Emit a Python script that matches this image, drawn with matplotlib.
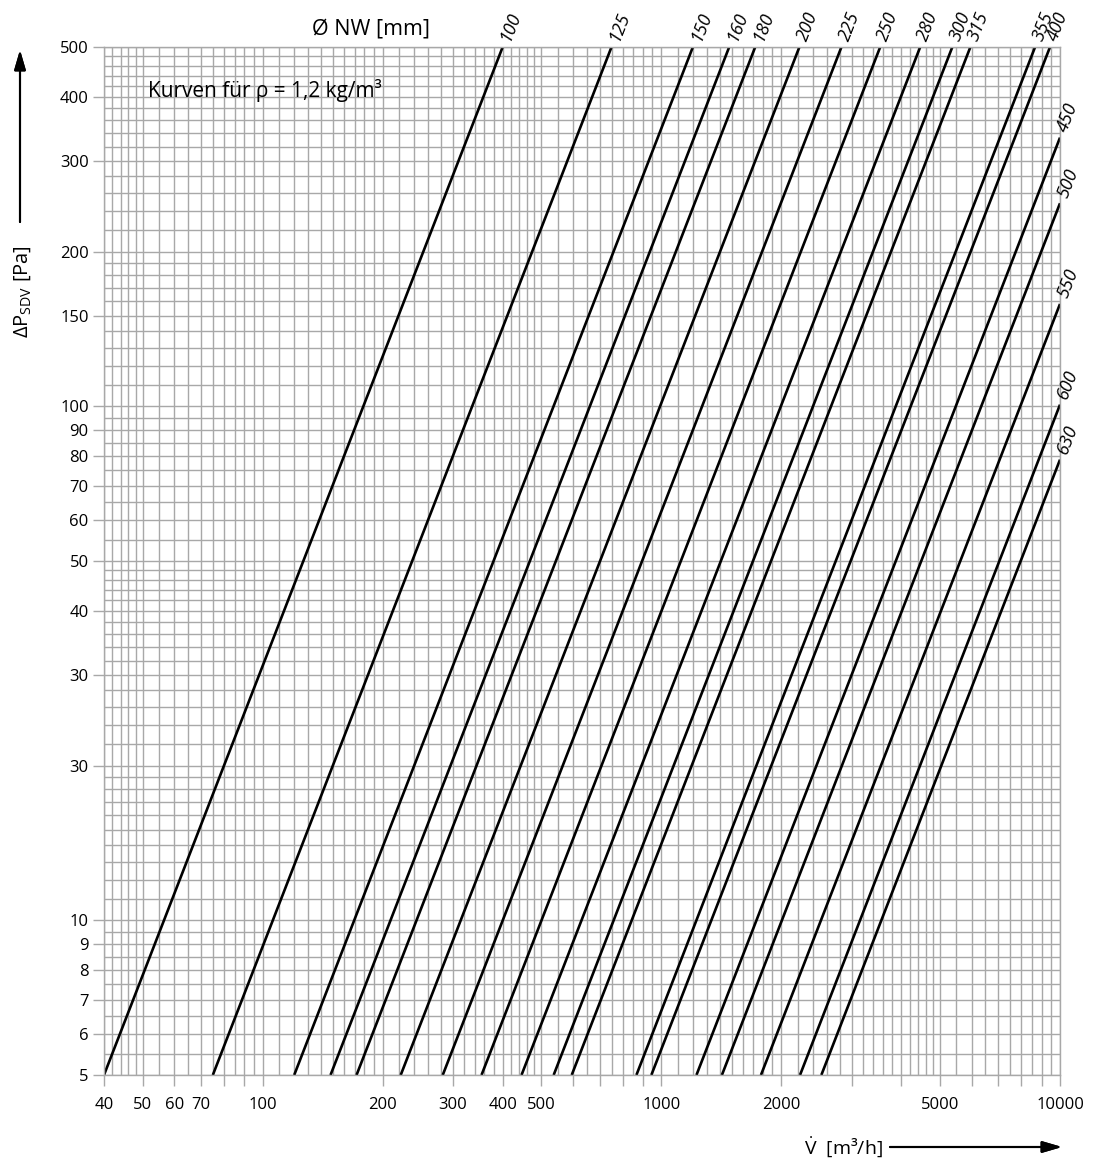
import numpy as np
import matplotlib.pyplot as plt
from matplotlib.ticker import FixedLocator, FixedFormatter, NullFormatter

plt.rcParams['font.family'] = ['Open Sans', 'DejaVu Sans']
plt.rcParams['mathtext.fontset'] = 'custom'
plt.rcParams['mathtext.rm'] = 'Open Sans'

# nominal diameter [mm] and volume flow [m3/h] at 5 Pa for each curve
diameters = [100, 125, 150, 160, 180, 200, 225, 250, 280, 300, 315, 355, 400,
             450, 500, 550, 600, 630]
flow_at_5pa = [40, 75, 120, 148, 172, 222, 283, 354, 446, 537, 596, 866, 944,
               1225, 1419, 1778, 2228, 2520]

# axis ticks
x_tick_values = [40, 50, 60, 70, 80, 90,
                 100, 200, 300, 400, 500, 600, 700, 800, 900,
                 1000, 2000, 3000, 4000, 5000, 6000, 7000, 8000, 9000, 10000]
x_labelled = [40, 50, 60, 70, 100, 200, 300, 400, 500, 1000, 2000, 5000, 10000]
y_tick_values = [5, 6, 7, 8, 9, 10, 20, 30, 40, 50, 60, 70, 80, 90, 100, 150,
                 200, 300, 400, 500]
y_tick_labels = ['5', '6', '7', '8', '9', '10', '30', '30', '40', '50', '60',
                 '70', '80', '90', '100', '150', '200', '300', '400', '500']

grid_col = '#a8a8a8'

fig = plt.figure(figsize=(10.95, 11.65), dpi=100)
ax = fig.add_axes([104 / 1095, 1 - 1075 / 1165, 956 / 1095, 1028 / 1165])
ax.set_xscale('log')
ax.set_yscale('log')
ax.set_xlim(40, 10000)
ax.set_ylim(5, 500)

# paper-like log grid: step 0.1 from 1-2, 0.2 from 2-5, 0.5 from 5-10 per decade
mant = np.concatenate([np.arange(1, 2, 0.1), np.arange(2, 5, 0.2), np.arange(5, 10, 0.5)])
gx = np.concatenate([mant * 10 ** k for k in range(1, 5)])
gx = gx[(gx >= 40) & (gx <= 10000)]
gy = np.concatenate([mant * 10 ** k for k in range(0, 3)])
gy = gy[(gy >= 5) & (gy <= 500)]
ax.xaxis.set_minor_locator(FixedLocator(gx))
ax.yaxis.set_minor_locator(FixedLocator(gy))
ax.xaxis.set_minor_formatter(NullFormatter())
ax.yaxis.set_minor_formatter(NullFormatter())
ax.grid(which='both', color=grid_col, linewidth=1.0)
ax.set_axisbelow(True)

ax.xaxis.set_major_locator(FixedLocator(x_tick_values))
ax.xaxis.set_major_formatter(FixedFormatter(
    [str(v) if v in x_labelled else '' for v in x_tick_values]))
ax.yaxis.set_major_locator(FixedLocator(y_tick_values))
ax.yaxis.set_major_formatter(FixedFormatter(y_tick_labels))
ax.tick_params(which='major', length=8, width=1.0, color=grid_col, labelsize=12)
ax.tick_params(axis='x', which='major', pad=8)
ax.tick_params(axis='y', which='major', pad=3)
ax.tick_params(which='minor', length=0)
for s in ax.spines.values():
    s.set_color(grid_col)
    s.set_linewidth(1.0)

# curves: dp ~ V^2, from 5 Pa up to the top or right edge
for d, v0 in zip(diameters, flow_at_5pa):
    v_end = min(v0 * 10, 10000)
    v = np.array([v0, v_end])
    dp = 5 * (v / v0) ** 2
    ax.plot(v, dp, color='black', linewidth=1.9, solid_capstyle='butt')
    p0 = ax.transData.transform((v[0], dp[0]))
    p1 = ax.transData.transform((v[1], dp[1]))
    ang = np.degrees(np.arctan2(p1[1] - p0[1], p1[0] - p0[0]))
    off = 5
    ax.annotate(str(d), xy=(v[1], dp[1]),
                xytext=(off * np.cos(np.radians(ang)), off * np.sin(np.radians(ang))),
                textcoords='offset points', rotation=ang, rotation_mode='anchor',
                ha='left', va='center', fontsize=13, style='italic',
                annotation_clip=False)

ax.text(0.046, 0.958, 'Kurven für ρ = 1,2 kg/m³', transform=ax.transAxes,
        fontsize=15, ha='left', va='center')
fig.text(371 / 1095, 1 - 29 / 1165, 'Ø NW [mm]', fontsize=15.5, ha='center', va='center')

fig.text(23 / 1095, 1 - 292 / 1165, r'ΔP$_{\mathrm{SDV}}$ [Pa]', fontsize=14.5,
         rotation=90, ha='center', va='center')
fig.text(843 / 1095, 1 - 1147 / 1165, r'$\dot{\mathrm{V}}$  [m³/h]', fontsize=14,
         ha='center', va='center')

arrow = dict(arrowstyle='-|>,head_length=1.2,head_width=0.35', color='black',
             lw=1.5, mutation_scale=10, shrinkA=0, shrinkB=0)
fig.add_artist(plt.annotate('', xy=(20 / 1095, 1 - 50 / 1165), xycoords='figure fraction',
                            xytext=(20 / 1095, 1 - 222 / 1165), textcoords='figure fraction',
                            arrowprops=arrow))
fig.add_artist(plt.annotate('', xy=(1062 / 1095, 1 - 1147 / 1165), xycoords='figure fraction',
                            xytext=(890 / 1095, 1 - 1147 / 1165), textcoords='figure fraction',
                            arrowprops=arrow))

fig.savefig('out.png', dpi=100)
